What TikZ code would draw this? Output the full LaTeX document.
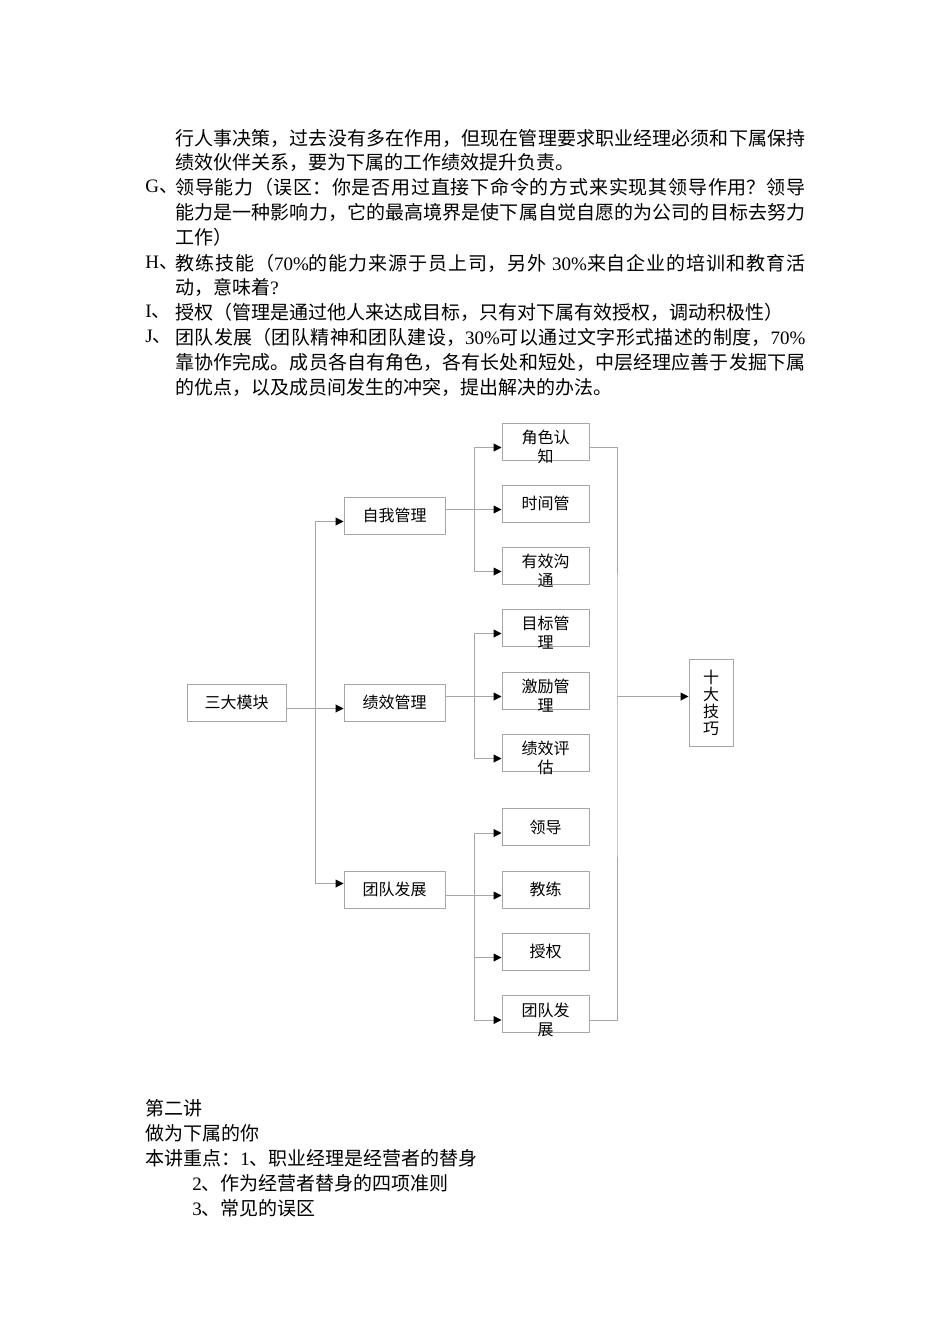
\documentclass[tikz,border=0pt]{standalone}
\usepackage{fontspec}
\setmainfont{Liberation Serif}
\newfontfamily\cjk{Noto Sans CJK SC}
\usepackage{tikz}
\usetikzlibrary{arrows.meta}
\XeTeXlinebreaklocale "zh"
\XeTeXlinebreakskip=0pt plus 1pt
\newcommand{\lat}[1]{{\rmfamily #1}}
\newcommand{\twoln}[2]{\smash{\raisebox{-1pt}{\begin{tabular}[t]{@{}c@{}}#1\\#2\end{tabular}}}}

\begin{document}
\begin{tikzpicture}[
    x=0.5pt, y=-0.5pt,
    >={Triangle[length=4pt, width=4pt, color=black]},
    line/.style={draw=gray!70, line width=0.5pt},
    box/.style={draw=gray!70, line width=0.5pt, inner sep=0pt, minimum width=#1, minimum height=18.5pt, font=\cjk\fontsize{8}{9.5}\selectfont},
    box/.default=43.5pt,
    para/.style={anchor=west, inner sep=0pt, font=\cjk\fontsize{9.5}{12}\selectfont},
    just/.style={para, text width=315pt, align=justify, execute at begin node={\parfillskip=0pt\relax}},
]
    \fill[white] (0,0) rectangle (950,1344);
    \useasboundingbox (0,0) rectangle (950,1344);

    % Text above
    \node[just] (p1) at (175,138) {行人事决策，过去没有多在作用，但现在管理要求职业经理必须和下属保持};
    \node[para] (p2) at (175,162) {绩效伙伴关系，要为下属的工作绩效提升负责。};
    \node[para] (lg) at (145,187) {\lat{G}、};
    \node[just] (p3) at (175,187) {领导能力（误区：你是否用过直接下命令的方式来实现其领导作用？领导};
    \node[just] (p4) at (175,212) {能力是一种影响力，它的最高境界是使下属自觉自愿的为公司的目标去努力};
    \node[para] (p5) at (175,237) {工作）};
    \node[para] (lh) at (145,263) {\lat{H}、};
    \node[just] (p6) at (175,263) {教练技能（\lat{70\%}的能力来源于员上司，另外\lat{ 30\%}来自企业的培训和教育活};
    \node[para] (p7) at (175,287) {动，意味着\lat{?}};
    \node[para] (li) at (145,312) {\lat{I}、};
    \node[para] (p8) at (175,312) {授权（管理是通过他人来达成目标，只有对下属有效授权，调动积极性）};
    \node[para] (lj) at (145,337) {\lat{J}、};
    \node[just] (p9) at (175,337) {团队发展（团队精神和团队建设，\lat{30\%}可以通过文字形式描述的制度，\lat{70\%}};
    \node[just] (p10) at (175,362) {靠协作完成。成员各自有角色，各有长处和短处，中层经理应善于发掘下属};
    \node[para] (p11) at (175,387) {的优点，以及成员间发生的冲突，提出解决的办法。};

    % Three modules
    \node[box=49.5pt] (sdmk) at (236.5,702.5) {三大模块};
    \node[box=50.5pt] (zwgl) at (394.5,515.5) {自我管理};
    \node[box=50.5pt] (jxgl) at (394.5,702.5) {绩效管理};
    \node[box=50.5pt] (tdfz) at (394.5,889.5) {团队发展};

    % Ten skills
    \node[box] (jszz) at (545.5,441.5) {\twoln{角色认}{知}};
    \node[box] (sjg) at (545.5,503.5) {时间管};
    \node[box] (yxgt) at (545.5,565.5) {\twoln{有效沟}{通}};
    \node[box] (mbgl) at (545.5,627.5) {\twoln{目标管}{理}};
    \node[box] (jlgl) at (545.5,690.5) {\twoln{激励管}{理}};
    \node[box] (jxpg) at (545.5,752.5) {\twoln{绩效评}{估}};
    \node[box] (ld) at (545.5,827) {领导};
    \node[box] (jl) at (545.5,889.5) {教练};
    \node[box] (sq) at (545.5,951.5) {授权};
    \node[box] (tdfz2) at (545.5,1014) {\twoln{团队发}{展}};
    \node[box=22pt, minimum height=43.5pt, align=center, font=\cjk\fontsize{8}{8.5}\selectfont] (sdjq) at (711,702.5) {十\\大\\技\\巧};

    % Junctions
    \coordinate (j0) at (315,708.5);
    \coordinate (j1) at (474,509.5);
    \coordinate (j2) at (474,696.5);
    \coordinate (j3) at (474,895.5);
    \coordinate (j4) at (617,696.5);

    \draw[line, ->] ([yshift=-3pt]sdmk.east) -- ([yshift=-3pt]jxgl.west);
    \draw[line, ->] (j0) |- ([yshift=-3pt]zwgl.west);
    \draw[line, ->] (j0) |- ([yshift=3pt]tdfz.west);

    \draw[line] ([yshift=3pt]zwgl.east) -- (j1);
    \draw[line, ->] (j1) |- ([yshift=-3pt]jszz.west);
    \draw[line, ->] (j1) -- ([yshift=-3pt]sjg.west);
    \draw[line, ->] (j1) |- ([yshift=-3pt]yxgt.west);

    \draw[line] ([yshift=3pt]jxgl.east) -- (j2);
    \draw[line, ->] (j2) |- ([yshift=-3pt]mbgl.west);
    \draw[line, ->] (j2) -- ([yshift=-3pt]jlgl.west);
    \draw[line, ->] (j2) |- ([yshift=-3pt]jxpg.west);

    \draw[line] ([yshift=-3pt]tdfz.east) -- (j3);
    \draw[line, ->] (j3) |- ([yshift=-3pt]ld.west);
    \draw[line, ->] (j3) -- ([yshift=-3pt]jl.west);
    \draw[line, ->] (j3) |- ([yshift=-3pt]sq.west);
    \draw[line, ->] (j3) |- ([yshift=-3pt]tdfz2.west);

    % Collector
    \draw[line] ([yshift=-3pt]jszz.east) -| (j4) |- ([yshift=-3pt]tdfz2.east);
    \draw[line, ->] (j4) -- ([yshift=3pt]sdjq.west);

    % Text below
    \node[para] (q1) at (145,1108) {第二讲};
    \node[para] (q2) at (145,1133) {做为下属的你};
    \node[para] (q3) at (145,1158) {本讲重点：\lat{1}、职业经理是经营者的替身};
    \node[para] (q4) at (192,1183) {\lat{2}、作为经营者替身的四项准则};
    \node[para] (q5) at (192,1208) {\lat{3}、常见的误区};
\end{tikzpicture}
\end{document}
